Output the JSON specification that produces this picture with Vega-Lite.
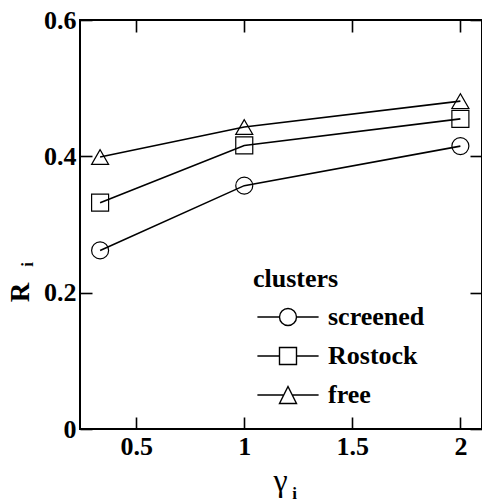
{
  "$schema": "https://vega.github.io/schema/vega-lite/v6.json",
  "width": 402,
  "height": 409,
  "autosize": "none",
  "padding": {"left": 80, "top": 20, "right": 0, "bottom": 72},
  "background": "white",
  "config": {
    "view": {"stroke": "black", "strokeWidth": 2},
    "font": "Liberation Serif",
    "axis": {
      "grid": false,
      "labelFont": "Liberation Serif",
      "labelFontWeight": "bold",
      "labelFontSize": 26,
      "labelColor": "black",
      "titleColor": "black",
      "titleFont": "Liberation Serif"
    }
  },
  "data": {
    "values": [
      {"cluster": "screened", "g": 0.333, "R": 0.262},
      {"cluster": "screened", "g": 1, "R": 0.357},
      {"cluster": "screened", "g": 2, "R": 0.415},
      {"cluster": "Rostock", "g": 0.333, "R": 0.332},
      {"cluster": "Rostock", "g": 1, "R": 0.416},
      {"cluster": "Rostock", "g": 2, "R": 0.455},
      {"cluster": "free", "g": 0.333, "R": 0.399},
      {"cluster": "free", "g": 1, "R": 0.443},
      {"cluster": "free", "g": 2, "R": 0.481}
    ]
  },
  "layer": [
    {
      "mark": {"type": "line", "stroke": "black", "strokeWidth": 1.6},
      "encoding": {
        "x": {
          "field": "g", "type": "quantitative",
          "scale": {"domain": [0.24, 2.1], "nice": false, "zero": false},
          "axis": {
            "orient": "bottom",
            "offset": -12,
            "values": [0.5, 1, 1.5, 2],
            "labelExpr": "format(datum.value, '~g')",
            "domain": false,
            "tickColor": "black",
            "tickSize": 12,
            "tickWidth": 1.6,
            "labelPadding": 4,
            "title": "γ",
            "titleFontSize": 32,
            "titleFontWeight": "normal",
            "titleX": 200,
            "titleY": 73,
            "titleAlign": "center",
            "titleBaseline": "alphabetic",
            "titleAngle": 0
          }
        },
        "y": {
          "field": "R", "type": "quantitative",
          "scale": {"domain": [0, 0.6], "nice": false, "zero": false},
          "axis": {
            "orient": "left",
            "offset": -12,
            "values": [0, 0.2, 0.4, 0.6],
            "labelExpr": "format(datum.value, '~g')",
            "domain": false,
            "tickColor": "black",
            "tickSize": 12,
            "tickWidth": 1.6,
            "labelPadding": 4,
            "title": "R",
            "titleFontSize": 27,
            "titleFontWeight": "bold",
            "titleX": -64,
            "titleY": 272,
            "titleAlign": "center",
            "titleBaseline": "alphabetic",
            "titleAngle": -90
          }
        },
        "detail": {"field": "cluster"}
      }
    },
    {
      "mark": {"type": "point", "filled": false, "color": "black", "strokeWidth": 1.2, "size": 289, "opacity": 1},
      "encoding": {
        "x": {
          "field": "g", "type": "quantitative",
          "axis": {
            "orient": "top",
            "offset": -12,
            "values": [0.5, 1, 1.5, 2],
            "labels": false,
            "domain": false,
            "tickColor": "black",
            "tickSize": 12,
            "tickWidth": 1.6,
            "title": "i",
            "titleFontSize": 17,
            "titleFontWeight": "bold",
            "titleX": 214,
            "titleY": 466,
            "titleAlign": "center",
            "titleBaseline": "alphabetic",
            "titleAngle": 0
          }
        },
        "y": {
          "field": "R", "type": "quantitative",
          "axis": {
            "orient": "right",
            "offset": -12,
            "values": [0, 0.2, 0.4, 0.6],
            "labels": false,
            "domain": false,
            "tickColor": "black",
            "tickSize": 12,
            "tickWidth": 1.6,
            "title": "i",
            "titleFontSize": 17,
            "titleFontWeight": "bold",
            "titleX": -438,
            "titleY": 244,
            "titleAlign": "center",
            "titleBaseline": "alphabetic",
            "titleAngle": -90
          }
        },
        "shape": {
          "field": "cluster", "type": "nominal",
          "scale": {"domain": ["screened", "Rostock", "free"], "range": ["circle", "square", "triangle-up"]},
          "legend": null
        }
      }
    },
    {
      "mark": {"type": "point", "opacity": 0, "filled": false, "color": "black"},
      "encoding": {
        "x": {"field": "g", "type": "quantitative", "axis": null},
        "y": {"field": "R", "type": "quantitative", "axis": null},
        "shape": {
          "field": "cluster", "type": "nominal",
          "scale": {
            "domain": ["screened", "Rostock", "free"],
            "range": [
              "M-3.6,0L-1,0M1,0L3.6,0M-1,0A1,1 0 1,1 1,0A1,1 0 1,1 -1,0Z",
              "M-3.6,0L-1,0M1,0L3.6,0M-1,-1L1,-1L1,1L-1,1Z",
              "M-3.6,0L-0.5,0M0.5,0L3.6,0M0,-1L1,1L-1,1Z"
            ]
          },
          "legend": {
            "orient": "none",
            "legendX": 173,
            "legendY": 246,
            "padding": 0,
            "title": "clusters",
            "titleFont": "Liberation Serif",
            "titleFontSize": 26,
            "titleFontWeight": "bold",
            "titleColor": "black",
            "titlePadding": 12,
            "labelFont": "Liberation Serif",
            "labelFontSize": 26,
            "labelFontWeight": "bold",
            "labelColor": "black",
            "labelLimit": 0,
            "symbolSize": 289,
            "symbolOffset": 22,
            "labelOffset": 27,
            "rowPadding": 13,
            "symbolOpacity": 1,
            "symbolStrokeWidth": 1.4,
            "symbolStrokeColor": "black",
            "symbolFillColor": "transparent",
            "encode": {
              "symbols": {
                "update": {
                  "opacity": {"value": 1},
                  "stroke": {"value": "black"},
                  "strokeWidth": {"value": 1.4}
                }
              }
            }
          }
        }
      }
    }
  ],
  "resolve": {"axis": {"x": "independent", "y": "independent"}, "scale": {"shape": "independent"}}
}
